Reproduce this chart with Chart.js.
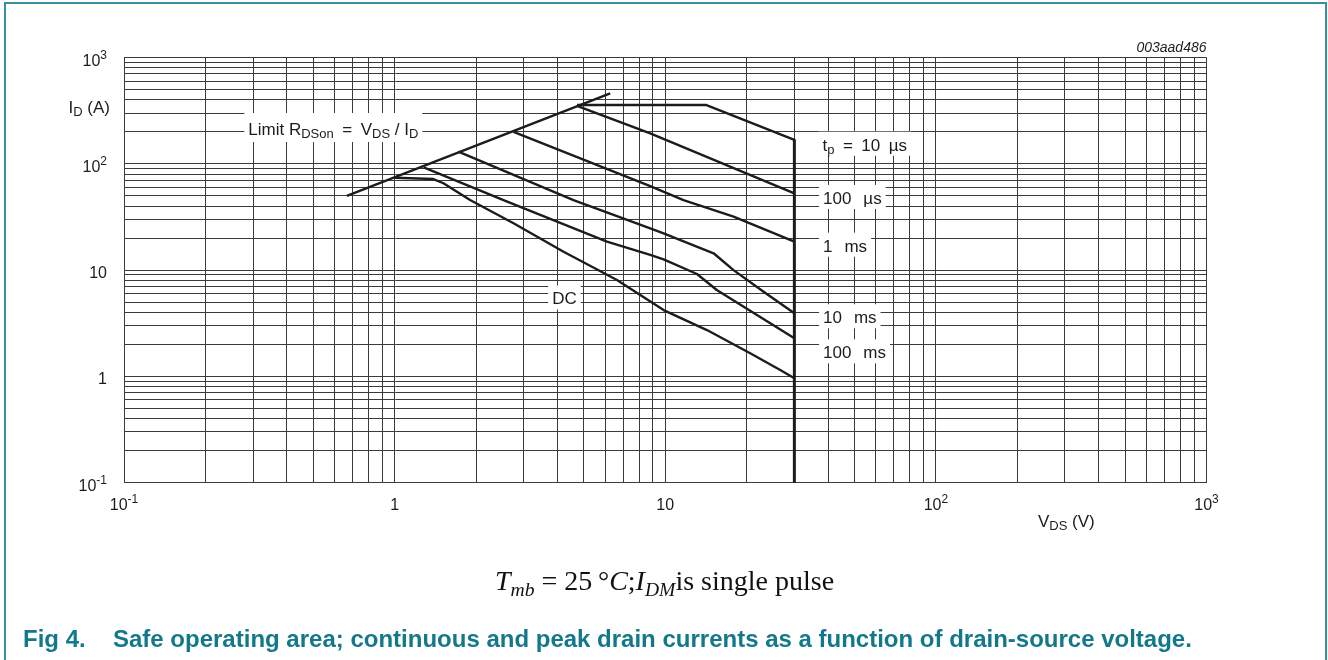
<!DOCTYPE html>
<html>
<head>
<meta charset="utf-8">
<script src="https://cdn.jsdelivr.net/npm/chart.js@4.4.0/dist/chart.umd.min.js"></script>
<style>
  html, body { margin: 0; padding: 0; background: #fff; }
  #cadre { position: relative; width: 1328px; height: 660px; overflow: hidden; }
  #soa { position: absolute; left: 0; top: 0; }
  .bordure { position: absolute; left: 4px; top: 2px; width: 1319px; height: 720px;
             border: 2px solid #3a8ea3; border-bottom: none; pointer-events: none; }
  .condition { position: absolute; left: 495px; top: 565px; line-height: 28px; white-space: nowrap;
               font: 28px 'Liberation Serif', 'Times New Roman', serif; color: #111; }
  .condition sub { font-size: 0.7em; vertical-align: -0.3em; line-height: 0; }
  .legende { position: absolute; top: 625px; line-height: 24px; white-space: nowrap;
             font: bold 24px 'Liberation Sans', Arial, sans-serif; color: #13788c; }
</style>
</head>
<body>
<div id="cadre">
  <canvas id="soa" width="1328" height="660"></canvas>
  <div class="bordure"></div>
  <div class="condition"><i>T</i><sub><i>mb</i></sub> = 25&#8201;°<i>C</i>;<i>I</i><sub><i>DM</i></sub>is single pulse</div>
  <div class="legende" style="left:23px">Fig 4.</div>
  <div class="legende" style="left:113px">Safe operating area; continuous and peak drain currents as a function of drain-source voltage.</div>
</div>
<script>
// Limite RDSon = VDS / ID
const limiteV = [0.666, 6.26];
const limiteI = [49.8, 460];

// tp = 10 µs
const tp10usV = [4.72, 14.2, 30];
const tp10usI = [357, 357, 167.5];

// tp = 100 µs
const tp100usV = [4.72, 8.8, 30];
const tp100usI = [350, 193.6, 52.8];

// tp = 1 ms
const tp1msV = [2.75, 8.8, 11.68, 17.88, 30];
const tp1msI = [200, 61.8, 45.6, 31.8, 18.5];

// tp = 10 ms
const tp10msV = [1.72, 4.58, 8.8, 9.86, 15.09, 17.88, 23.09, 30];
const tp10msI = [130, 45.6, 24.7, 22.2, 14.4, 10.0, 6.26, 3.92];

// tp = 100 ms
const tp100msV = [1.28, 2.525, 6.09, 8.8, 9.86, 13.1, 15.5, 30];
const tp100msI = [92.7, 45.6, 18.5, 13.9, 12.6, 9.19, 6.5, 2.28];

// DC
const dcV = [1.0, 1.39, 1.515, 1.9, 2.75, 4.21, 6.63, 9.86, 14.26, 20.6, 26.6, 30];
const dcI = [74, 71.9, 65.6, 45.6, 27.6, 14.9, 8.07, 4.21, 2.73, 1.65, 1.15, 0.96];

// VDS max
const vmaxV = [30, 30];
const vmaxI = [167.5, 0.1];

// graduations (identiques sur les deux axes)
const tickValeurs = [0.1, 1, 10, 100, 1000];
const tickBases = ["10", "1", "10", "10", "10"];
const tickExposants = ["-1", "", "", "2", "3"];
const decades = [0.1, 1, 10, 100];
const multiples = [1, 2, 3, 4, 5, 6, 7, 8, 9];

// étiquettes des courbes : [texte, mode], ancrage en (V, A)
const etiquettes = [
  { morceaux: [["Limit R", "n"], ["DSon", "sub"], ["\u2002=\u2002V", "n"], ["DS", "sub"], [" / I", "n"], ["D", "sub"]], v: 0.288, i: 186.6, haut: 22, bas: 7 },
  { morceaux: [["t", "n"], ["p", "sub"], ["\u2002=\u200210\u2002µs", "n"]], v: 38.1, i: 132.8, haut: 19, bas: 5 },
  { morceaux: [["100\u2002\u2009µs", "n"]], v: 38.3, i: 41.9, haut: 19, bas: 5 },
  { morceaux: [["1\u2002\u2009ms", "n"]], v: 38.3, i: 14.9, haut: 19, bas: 5 },
  { morceaux: [["10\u2002\u2009ms", "n"]], v: 38.3, i: 3.16, haut: 19, bas: 5 },
  { morceaux: [["100\u2002\u2009ms", "n"]], v: 38.3, i: 1.48, haut: 19, bas: 5 },
  { morceaux: [["DC", "n"]], v: 3.82, i: 4.75, haut: 19, bas: 5 },
];

const grille = decades.flatMap((d) => multiples.map((m) => +(d * m).toPrecision(3))).concat([1000]);
const police = "'Liberation Sans', Arial, sans-serif";
const encre = "#1c1c1c";

function serie(vs, is) {
  return vs.map((v, k) => ({ x: v, y: is[k] }));
}

// texte avec indices / exposants
function texteRiche(ctx, morceaux, x, y, taille, aligne, fond) {
  const mesures = morceaux.map(([t, m]) => {
    const s = m === "n" ? taille : Math.round(taille * 0.74);
    ctx.font = `${s}px ${police}`;
    return { t, m, s, w: ctx.measureText(t).width };
  });
  const total = mesures.reduce((a, p) => a + p.w, 0);
  let x0 = aligne === "right" ? x - total : aligne === "center" ? x - total / 2 : x;
  if (fond) {
    ctx.fillStyle = "#fff";
    ctx.fillRect(x0 - 4, y - fond.haut, total + 8, fond.haut + fond.bas);
  }
  ctx.fillStyle = encre;
  ctx.textAlign = "left";
  ctx.textBaseline = "alphabetic";
  mesures.forEach((p) => {
    ctx.font = `${p.s}px ${police}`;
    const dy = p.m === "sub" ? taille * 0.2 : p.m === "sup" ? -taille * 0.42 : 0;
    ctx.fillText(p.t, x0, y + dy);
    x0 += p.w;
  });
}

const textesPlugin = {
  id: "textes",
  afterDatasetsDraw(chart) {
    const { ctx, chartArea, scales } = chart;
    const sx = scales.x, sy = scales.y;
    ctx.save();
    // graduations
    tickValeurs.forEach((v, k) => {
      const m = [[tickBases[k], "n"]];
      if (tickExposants[k]) m.push([tickExposants[k], "sup"]);
      texteRiche(ctx, m, sx.getPixelForValue(v), chartArea.bottom + 27, 16, "center");
      texteRiche(ctx, m, chartArea.left - 17, sy.getPixelForValue(v) + 8, 16, "right");
    });
    // titres des axes
    texteRiche(ctx, [["I", "n"], ["D", "sub"], [" (A)", "n"]], chartArea.left - 14, chartArea.top + 55, 17, "right");
    texteRiche(ctx, [["V", "n"], ["DS", "sub"], [" (V)", "n"]], 1038, chartArea.bottom + 44, 17, "left");
    // référence de la figure
    ctx.font = `italic 14px ${police}`;
    ctx.fillStyle = encre;
    ctx.textAlign = "right";
    ctx.fillText("003aad486", chartArea.right, chartArea.top - 6);
    // étiquettes des courbes
    etiquettes.forEach((e) => {
      texteRiche(ctx, e.morceaux, sx.getPixelForValue(e.v), sy.getPixelForValue(e.i), 17, "left", e);
    });
    ctx.restore();
  },
};

function axe(pos) {
  return {
    type: "logarithmic",
    position: pos,
    min: 0.1,
    max: 1000,
    afterBuildTicks: (scale) => {
      scale.ticks = grille.map((v) => ({ value: v }));
    },
    ticks: { display: false },
    grid: { color: "#3a3a3a", lineWidth: 1, drawTicks: false },
    border: { display: true, color: "#3a3a3a", width: 1 },
  };
}

function courbe(label, vs, is, largeur) {
  return {
    label,
    data: serie(vs, is),
    borderColor: encre,
    borderWidth: largeur,
    pointRadius: 0,
    showLine: true,
    fill: false,
    tension: 0,
    borderJoinStyle: "round",
  };
}

new Chart(document.getElementById("soa"), {
  type: "line",
  data: {
    datasets: [
      courbe("Limit RDSon", limiteV, limiteI, 2.4),
      courbe("tp = 10 µs", tp10usV, tp10usI, 2.4),
      courbe("100 µs", tp100usV, tp100usI, 2.4),
      courbe("1 ms", tp1msV, tp1msI, 2.4),
      courbe("10 ms", tp10msV, tp10msI, 2.4),
      courbe("100 ms", tp100msV, tp100msI, 2.4),
      courbe("DC", dcV, dcI, 2.4),
      courbe("VDS max", vmaxV, vmaxI, 3),
    ],
  },
  options: {
    responsive: false,
    animation: false,
    parsing: true,
    layout: { padding: { left: 124, right: 121.5, top: 57.5, bottom: 177.3 } },
    plugins: { legend: { display: false }, tooltip: { enabled: false } },
    scales: { x: axe("bottom"), y: axe("left") },
  },
  plugins: [textesPlugin],
});
</script>
</body>
</html>
